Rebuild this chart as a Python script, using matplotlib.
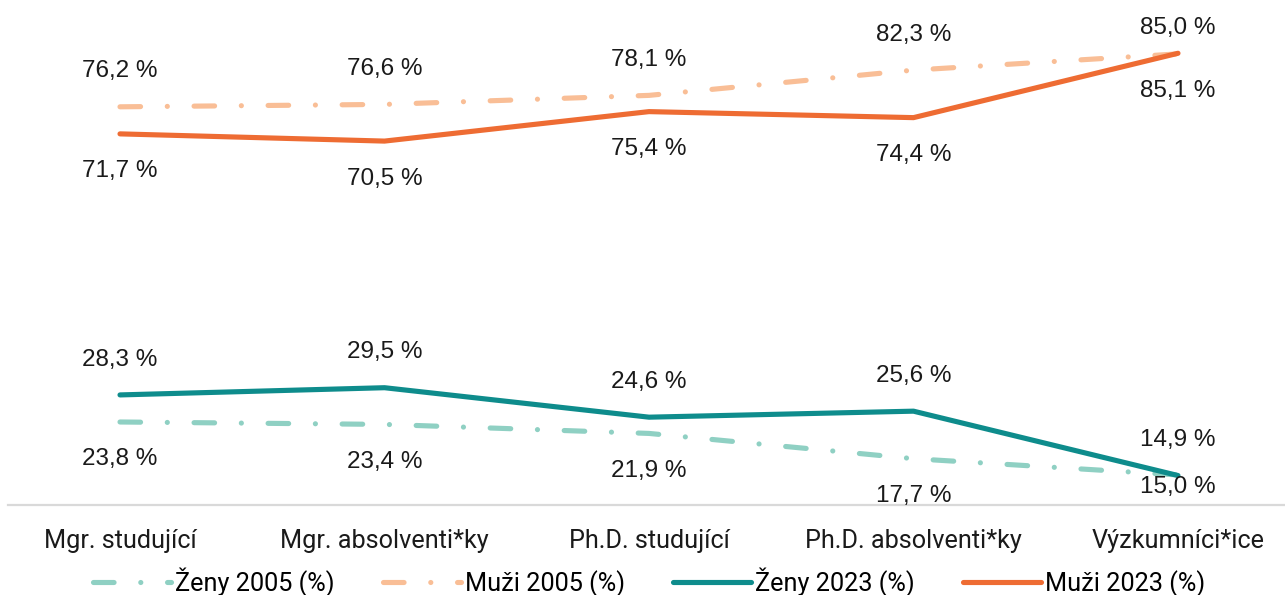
import numpy as np
import matplotlib.pyplot as plt

# categories and series (values in %)
categories = ['Mgr. studující', 'Mgr. absolventi*ky', 'Ph.D. studující',
              'Ph.D. absolventi*ky', 'Výzkumníci*ice']
zeny_2005 = [23.8, 23.4, 21.9, 17.7, 15.0]
muzi_2005 = [76.2, 76.6, 78.1, 82.3, 85.0]
zeny_2023 = [28.3, 29.5, 24.6, 25.6, 14.9]
muzi_2023 = [71.7, 70.5, 75.4, 74.4, 85.1]

series = [
    ('Ženy 2005 (%)', zeny_2005, '#8FD0C3', 'dash', 'below'),
    ('Muži 2005 (%)', muzi_2005, '#F9BE96', 'dash', 'above'),
    ('Ženy 2023 (%)', zeny_2023, '#0E8C8C', 'solid', 'above'),
    ('Muži 2023 (%)', muzi_2023, '#EE6C33', 'solid', 'below'),
]

W, H = 1285, 595
fig = plt.figure(figsize=(W / 100, H / 100), dpi=100)
ax = fig.add_axes([8 / W, 90 / H, (W - 8) / W, 505 / H])

x = np.arange(len(categories))
long_dash_dot = (0, (4, 5.2, 0.01, 5.2))

for name, vals, col, style, pos in series:
    ls = long_dash_dot if style == 'dash' else '-'
    ax.plot(x, vals, color=col, lw=3.7, ls=ls, label=name,
            solid_capstyle='round', dash_capstyle='round', solid_joinstyle='round')
    for xi, v in zip(x, vals):
        off = 25.5 if pos == 'above' else -27
        # last point labels sit closer for the two series drawn on top
        if xi == 4 and name == 'Muži 2005 (%)':
            off = 18.5
        if xi == 4 and name == 'Ženy 2005 (%)':
            off = -9
        ax.annotate(f'{v:.1f} %'.replace('.', ','), (xi, v), xytext=(0, off),
                    textcoords='offset points', ha='center', va='center',
                    fontsize=17.5, family='Liberation Sans', color='#1a1a1a')

ax.set_xlim(-112 / 264.5, 4 + 107 / 264.5)
ax.set_ylim(10, 10 + 505 / 6.015)
ax.set_xticks(x)
ax.set_xticklabels(categories, fontsize=18.2, family='Roboto', color='#1a1a1a')
ax.tick_params(axis='x', length=0, pad=17)
ax.set_yticks([])
for s in ['top', 'left', 'right']:
    ax.spines[s].set_visible(False)
ax.spines['bottom'].set_color('#D9D9D9')
ax.spines['bottom'].set_linewidth(1.6)

fig.legend(loc='lower center', bbox_to_anchor=(0.505, -0.042), ncol=4, frameon=False,
           handlelength=3.1, handletextpad=0.15, columnspacing=1.9,
           prop={'family': 'Roboto', 'size': 18.2})

fig.savefig('out.png', dpi=100)
